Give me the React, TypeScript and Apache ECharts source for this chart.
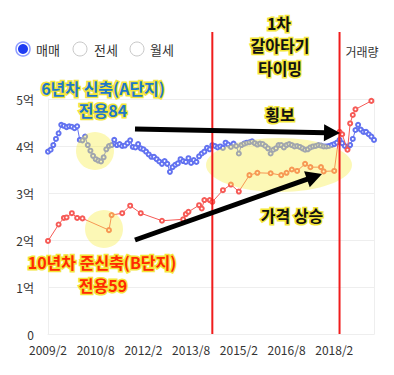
import React, { useEffect, useRef } from "react";
import * as echarts from "echarts";

// monthly categories 2009/2 .. 2019/5
const months: string[] = [];
for (let i = 0; i < 124; i++) {
  const m = 1 + i;
  months.push(`${2009 + Math.floor(m / 12)}/${(m % 12) + 1}`);
}

const yTicks = [0, 1, 2, 3, 4, 5];

// 6년차 신축(A단지) 전용84 — monthly (억)
const seriesA: number[] = [
  3.88, 3.92, 4.02, 4.15, 4.27, 4.45, 4.43, 4.40, 4.42, 4.41,
  4.38, 4.42, 4.13, 4.12, 4.20, 4.02, 3.90, 3.79, 3.72, 3.69,
  3.67, 3.76, 3.93, 4.00, 4.02, 4.13, 4.02, 4.04, 4.00, 4.01,
  4.06, 4.12, 3.98, 3.97, 4.04, 3.95, 3.93, 3.88, 3.82, 3.77,
  3.77, 3.72, 3.67, 3.62, 3.68, 3.62, 3.45, 3.55, 3.60, 3.63,
  3.72, 3.68, 3.66, 3.74, 3.64, 3.70, 3.66, 3.78, 3.84, 3.88,
  3.96, 3.93, 4.02, 4.00, 3.97, 3.99, 3.96, 4.07, 4.03, 3.98,
  4.05, 4.00, 3.84, 4.02, 4.05, 4.07, 4.08, 4.10, 4.06, 4.03,
  4.05, 4.04, 4.00, 3.95, 3.84, 3.92, 3.95, 4.02, 4.02, 3.97,
  4.02, 4.04, 4.02, 3.99, 4.00, 3.98, 3.95, 3.92, 3.93, 3.97,
  3.99, 4.00, 4.02, 4.01, 3.99, 3.99, 4.00, 4.02, 4.04, 4.07,
  4.13, 4.06, 4.00, 3.95, 4.02, 4.15, 4.34, 4.45, 4.35, 4.30,
  4.30, 4.25, 4.20, 4.13,
];

// 10년차 준신축(B단지) 전용59 — sparse trades (억)
const monthsB: string[] = [
  "2009/2", "2009/6", "2009/8", "2009/9", "2009/11", "2010/1", "2010/3",
  "2011/1", "2011/2", "2011/6", "2011/9", "2012/1", "2012/9", "2013/5",
  "2013/6", "2013/7", "2013/11", "2013/12", "2014/1", "2014/3", "2014/4",
  "2014/8", "2014/11", "2015/2", "2015/6", "2015/9", "2016/2", "2016/6",
  "2016/8", "2016/10", "2016/12", "2017/3", "2017/5", "2017/9", "2017/10",
  "2018/2", "2018/4", "2018/5", "2018/7", "2018/8", "2018/9", "2018/10",
  "2019/4",
];
const valuesB: number[] = [
  1.98, 2.33, 2.47, 2.48, 2.57, 2.47, 2.46,
  2.21, 2.53, 2.57, 2.73, 2.57, 2.41, 2.44,
  2.55, 2.60, 2.74, 2.67, 2.85, 2.85, 2.81,
  3.06, 3.18, 3.03, 3.38, 3.43, 3.42, 3.38,
  3.43, 3.50, 3.47, 3.62, 3.55, 3.55, 3.46,
  3.47, 4.30, 4.25, 3.92, 4.48, 4.66, 4.78,
  4.96,
];

const markMonths = ["2014/4", "2018/4"];
const legendItems = ["매매", "전세", "월세"];

const FONT = "'Noto Sans CJK KR', 'Noto Sans', sans-serif";

function arrow(x1: number, y1: number, x2: number, y2: number) {
  const dx = x2 - x1, dy = y2 - y1;
  const len = Math.hypot(dx, dy);
  const ux = dx / len, uy = dy / len;
  const nx = -uy, ny = ux;
  const hl = 16, hw = 8.5;
  const bx = x2 - ux * hl, by = y2 - uy * hl;
  return [
    { type: "line", z: 120, shape: { x1, y1, x2: bx + ux * 2, y2: by + uy * 2 }, style: { stroke: "#000", lineWidth: 5 } },
    {
      type: "polygon", z: 120,
      shape: { points: [[x2, y2], [bx + nx * hw, by + ny * hw], [bx - nx * hw, by - ny * hw]] },
      style: { fill: "#000" },
    },
  ];
}

function label(text: string, x: number, y: number, fill: string) {
  return {
    type: "text", z: 130, x, y,
    style: {
      text, fill, stroke: "#f3e63a", lineWidth: 3,
      font: `bold 16px ${FONT}`, align: "center", verticalAlign: "middle",
    },
  };
}

export default function App() {
  const ref = useRef<HTMLDivElement>(null);
  useEffect(() => {
    if (!ref.current) return;
    const chart = echarts.init(ref.current, null, { renderer: "svg" });
    chart.setOption({
      animation: false,
      grid: { left: 48, right: 20, top: 99, bottom: 41 },
      xAxis: {
        type: "category",
        data: months,
        boundaryGap: false,
        axisLine: { lineStyle: { color: "#eeeeee" } },
        axisTick: { show: false },
        axisLabel: { interval: 17, color: "#333", fontSize: 12, fontFamily: FONT, margin: 9 },
        splitLine: { show: false },
      },
      yAxis: [
        {
          type: "value", min: yTicks[0], max: yTicks[yTicks.length - 1], interval: 1,
          axisLine: { show: true, lineStyle: { color: "#eeeeee" } },
          axisTick: { show: false },
          axisLabel: {
            color: "#333", fontSize: 12, fontFamily: FONT, margin: 14,
            formatter: (v: number) => (v === 0 ? "0" : `${v}억`),
          },
          splitLine: { lineStyle: { color: "#eeeeee" } },
        },
        {
          type: "value", min: 0, max: 5, position: "right",
          axisLine: { show: true, lineStyle: { color: "#eeeeee" } },
          axisTick: { show: false }, axisLabel: { show: false }, splitLine: { show: false },
        },
      ],
      series: [
        {
          type: "line", data: seriesA, symbol: "emptyCircle", symbolSize: 4,
          showSymbol: true, showAllSymbol: true,
          lineStyle: { color: "#6272f0", width: 1 },
          itemStyle: { color: "#6272f0", borderWidth: 1 },
          z: 3,
        },
        {
          type: "line", data: monthsB.map((m, i) => [m, valuesB[i]]),
          symbol: "emptyCircle", symbolSize: 4, showSymbol: true, showAllSymbol: true,
          lineStyle: { color: "#f65a56", width: 1 },
          itemStyle: { color: "#f65a56", borderWidth: 1 },
          z: 4,
        },
      ],
    });

    const xA = chart.convertToPixel({ xAxisIndex: 0 }, markMonths[0]) as number;
    const xB = chart.convertToPixel({ xAxisIndex: 0 }, markMonths[1]) as number;
    const yZero = chart.convertToPixel({ yAxisIndex: 0 }, 0) as number;

    const graphic: any[] = [
      // legend radios
      { type: "circle", z: 50, shape: { cx: 23, cy: 49, r: 7 }, style: { fill: "#fff", stroke: "#8d9cff", lineWidth: 1.5 } },
      { type: "circle", z: 51, shape: { cx: 23, cy: 49, r: 5 }, style: { fill: "#1f3cf2" } },
      { type: "circle", z: 50, shape: { cx: 80, cy: 49, r: 7 }, style: { fill: "#fff", stroke: "#c8c8c8", lineWidth: 1 } },
      { type: "circle", z: 50, shape: { cx: 137, cy: 49, r: 7 }, style: { fill: "#fff", stroke: "#c8c8c8", lineWidth: 1 } },
      ...legendItems.map((t, i) => ({
        type: "text", z: 50, x: [36, 94, 150][i], y: 49,
        style: { text: t, fill: "#333", font: `13px ${FONT}`, align: "left", verticalAlign: "middle" },
      })),
      // yellow highlights
      { type: "circle", z: 100, shape: { cx: 95, cy: 151, r: 19 }, style: { fill: "rgba(248,238,80,0.42)" } },
      { type: "circle", z: 100, shape: { cx: 104, cy: 229, r: 19 }, style: { fill: "rgba(248,238,80,0.42)" } },
      { type: "ellipse", z: 100, shape: { cx: 279, cy: 165, rx: 73, ry: 27 }, style: { fill: "rgba(248,238,80,0.42)" } },
      // red vertical lines
      { type: "line", z: 110, shape: { x1: xA, y1: 32, x2: xA, y2: yZero }, style: { stroke: "#f01c1c", lineWidth: 2 } },
      { type: "line", z: 110, shape: { x1: xB, y1: 32, x2: xB, y2: yZero }, style: { stroke: "#f01c1c", lineWidth: 2 } },
      // arrows
      ...arrow(135, 129, 340, 133),
      ...arrow(135, 240, 322, 174),
      // texts
      label("6년차 신축(A단지)", 103, 88, "#1f78c8"),
      label("전용84", 103, 110, "#1f78c8"),
      label("10년차 준신축(B단지)", 102, 262, "#ff2a00"),
      label("전용59", 103, 285, "#ff2a00"),
      label("1차", 279, 23, "#111"),
      label("갈아타기", 280, 45, "#111"),
      label("타이밍", 280, 68, "#111"),
      label("횡보", 280, 114, "#111"),
      label("가격 상승", 292, 215, "#111"),
      {
        type: "text", z: 50, x: 362, y: 51,
        style: { text: "거래량", fill: "#333", font: `12px ${FONT}`, align: "center", verticalAlign: "middle" },
      },
    ];
    chart.setOption({ graphic });
    return () => chart.dispose();
  }, []);
  return (
    <div
      ref={ref}
      style={{ position: "fixed", left: 0, top: 0, width: 394, height: 375, background: "#fff" }}
    />
  );
}
